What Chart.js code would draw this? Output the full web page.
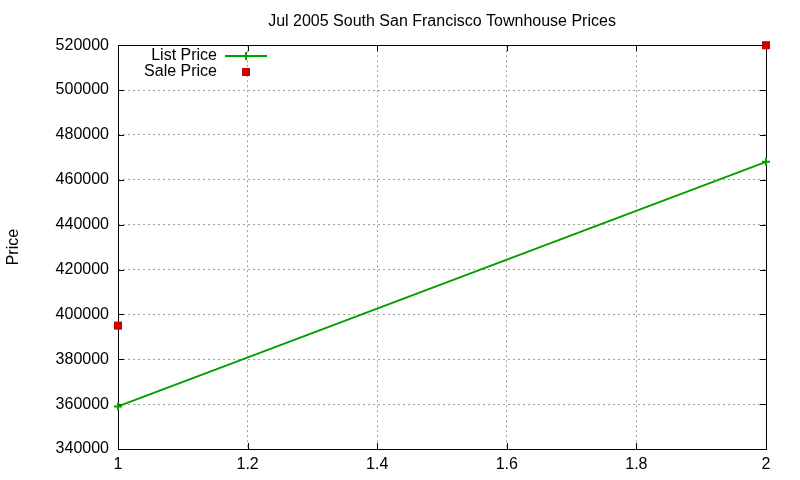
<!DOCTYPE html>
<html>
<head>
<meta charset="utf-8">
<script src="https://cdn.jsdelivr.net/npm/chart.js@4.4.1/dist/chart.umd.min.js"></script>
<style>
  html, body { margin: 0; padding: 0; background: #fff; }
  #wrap { width: 800px; height: 480px; }
</style>
</head>
<body>
<div id="wrap"><canvas id="priceChart"></canvas></div>
<script>
// data
const xValues = [1, 2];
const listPrices = [359000, 468000];
const salePrices = [395000, 520000];
const xTicks = [1, 1.2, 1.4, 1.6, 1.8, 2];
const yTicks = [340000, 360000, 380000, 400000, 420000, 440000, 460000, 480000, 500000, 520000];

const FONT = '"Liberation Sans", Arial, sans-serif';
const GREEN = '#00a000';
const RED = '#cc0000';

// gnuplot-style inner ticks on every side + key in the top-left corner
const gnuplotDecor = {
    id: 'gnuplotDecor',
    beforeDatasetsDraw(chart) {
        const { ctx, chartArea: a, scales } = chart;
        ctx.save();
        ctx.strokeStyle = '#000';
        ctx.lineWidth = 1;
        ctx.beginPath();
        xTicks.forEach(v => {
            const x = Math.round(scales.x.getPixelForValue(v)) + 0.5;
            ctx.moveTo(x, a.bottom); ctx.lineTo(x, a.bottom - 6);
            ctx.moveTo(x, a.top); ctx.lineTo(x, a.top + 6);
        });
        yTicks.forEach(v => {
            const y = Math.round(scales.y.getPixelForValue(v)) + 0.5;
            ctx.moveTo(a.left, y); ctx.lineTo(a.left + 6, y);
            ctx.moveTo(a.right, y); ctx.lineTo(a.right - 6, y);
        });
        ctx.stroke();
        ctx.strokeRect(Math.round(a.left) + 0.5, Math.round(a.top) + 0.5,
            Math.round(a.right - a.left), Math.round(a.bottom - a.top));
        ctx.restore();
    },
    afterDatasetsDraw(chart) {
        const { ctx } = chart;
        ctx.save();
        // key
        const textRight = 217, symX = 246;
        ctx.font = '16px ' + FONT;
        ctx.fillStyle = '#000';
        ctx.textAlign = 'right';
        ctx.textBaseline = 'middle';
        chart.data.datasets.forEach((ds, i) => {
            const y = 56 + i * 16;
            ctx.fillText(ds.label, textRight, y);
            if (ds.showLine !== false) {
                ctx.strokeStyle = ds.borderColor;
                ctx.lineWidth = 2;
                ctx.beginPath();
                ctx.moveTo(symX - 21, y); ctx.lineTo(symX + 21, y);
                ctx.moveTo(symX, y - 4); ctx.lineTo(symX, y + 4);
                ctx.stroke();
            } else {
                ctx.fillStyle = ds.pointBackgroundColor;
                ctx.fillRect(symX - 4, y - 4, 8, 8);
                ctx.fillStyle = '#000';
            }
        });
        ctx.restore();
    }
};

const ctx = document.getElementById('priceChart').getContext('2d');
new Chart(ctx, {
    type: 'scatter',
    data: {
        datasets: [{
            label: 'List Price',
            data: xValues.map((x, i) => ({ x: x, y: listPrices[i] })),
            showLine: true,
            borderColor: GREEN,
            backgroundColor: GREEN,
            borderWidth: 2,
            pointStyle: 'cross',
            pointRadius: 4,
            pointBorderColor: GREEN,
            pointBorderWidth: 2,
            clip: false
        }, {
            label: 'Sale Price',
            data: xValues.map((x, i) => ({ x: x, y: salePrices[i] })),
            showLine: false,
            pointStyle: 'rect',
            pointRadius: 5.7,
            pointBorderWidth: 0,
            pointBackgroundColor: RED,
            backgroundColor: RED,
            borderColor: RED,
            clip: false
        }]
    },
    options: {
        responsive: true,
        maintainAspectRatio: false,
        animation: false,
        layout: { padding: { left: 0, right: 34, top: 0, bottom: 0 } },
        scales: {
            x: {
                type: 'linear',
                min: 1,
                max: 2,
                afterBuildTicks: s => { s.ticks = xTicks.map(v => ({ value: v })); },
                afterFit: s => { s.height = 31; },
                ticks: {
                    color: '#000',
                    font: { family: FONT, size: 16 },
                    padding: 6,
                    maxRotation: 0,
                    callback: v => String(v)
                },
                grid: {
                    color: '#a0a0a0',
                    drawTicks: false,
                    tickLength: 0
                },
                border: { display: false, dash: [2, 3] }
            },
            y: {
                min: 340000,
                max: 520000,
                afterBuildTicks: s => { s.ticks = yTicks.map(v => ({ value: v })); },
                afterFit: s => { s.width = 118; },
                title: {
                    display: true,
                    text: 'Price',
                    color: '#000',
                    font: { family: FONT, size: 16 },
                    padding: { top: 4, bottom: 20 }
                },
                ticks: {
                    color: '#000',
                    font: { family: FONT, size: 16 },
                    padding: 9,
                    callback: v => String(v)
                },
                grid: {
                    color: '#a0a0a0',
                    drawTicks: false,
                    tickLength: 0
                },
                border: { display: false, dash: [2, 3] }
            }
        },
        plugins: {
            legend: { display: false },
            tooltip: { enabled: false },
            title: {
                display: true,
                fullSize: false,
                text: 'Jul 2005 South San Francisco Townhouse Prices',
                color: '#000',
                font: { family: FONT, size: 16, weight: 'normal' },
                padding: { top: 12, bottom: 14 }
            }
        }
    },
    plugins: [gnuplotDecor]
});
</script>
</body>
</html>
